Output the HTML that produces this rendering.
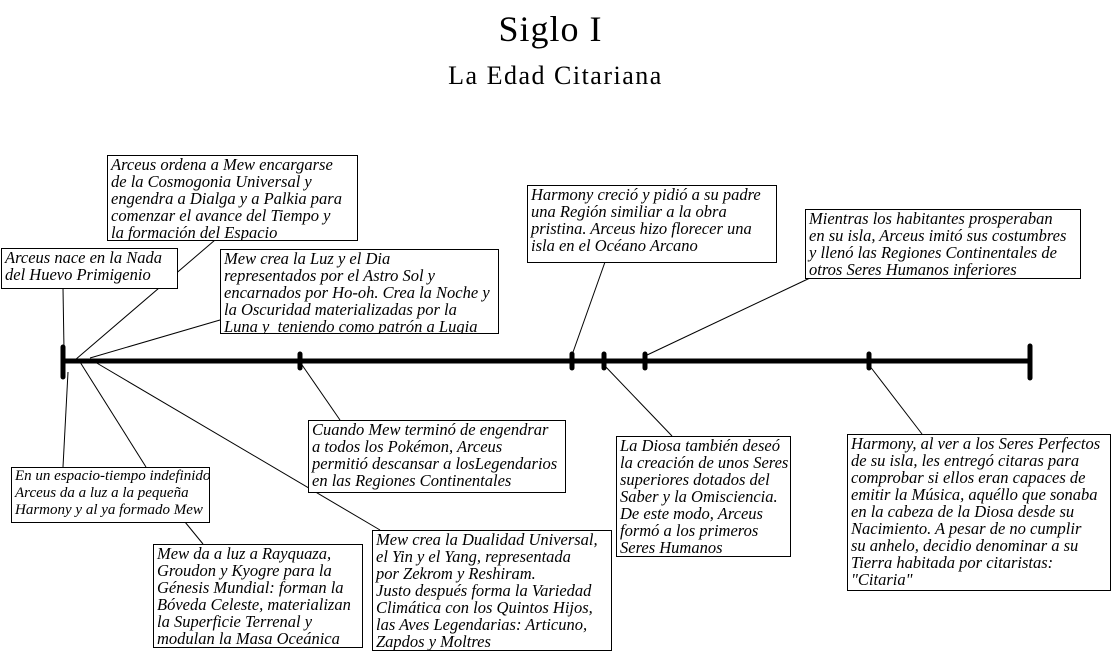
<!DOCTYPE html>
<html><head><meta charset="utf-8"><style>
body{margin:0;width:1111px;height:657px;background:#fff;position:relative;overflow:hidden;font-family:"Liberation Serif",serif;}
.b{position:absolute;border:1px solid #000;background:#fff;font-style:italic;font-size:16.5px;line-height:17px;padding:0 3px;white-space:nowrap;box-sizing:border-box;overflow:hidden;color:#000}
.t{position:absolute;width:100%;text-align:center;left:0}
svg{position:absolute;left:0;top:0}
</style></head><body>
<div class="t" style="top:8px;left:-5px;font-size:36px;letter-spacing:1px;">Siglo I</div>
<div class="t" style="top:61px;left:0px;font-size:26px;letter-spacing:1.5px;">La Edad Citariana</div>
<svg width="1111" height="657">
<g stroke="#000" stroke-width="1" fill="none">
<line x1="63" y1="288" x2="64" y2="350"/>
<line x1="215" y1="240" x2="75" y2="360"/>
<line x1="220" y1="320" x2="90" y2="358"/>
<line x1="68" y1="372" x2="63" y2="467"/>
<line x1="80" y1="362" x2="146" y2="467"/>
<line x1="95" y1="362" x2="380" y2="530"/>
<line x1="300" y1="362" x2="340" y2="420"/>
<line x1="185" y1="522" x2="203" y2="544"/>
<line x1="605" y1="262" x2="572" y2="355"/>
<line x1="810" y1="278" x2="645" y2="356"/>
<line x1="604" y1="365" x2="672" y2="436"/>
<line x1="869" y1="365" x2="922" y2="434"/>
</g>
<g stroke="#000" stroke-linecap="round">
<line x1="63" y1="361" x2="1030" y2="361" stroke-width="5"/>
<line x1="63" y1="347" x2="63" y2="377" stroke-width="5"/>
<line x1="1030" y1="346" x2="1030" y2="378" stroke-width="5"/>
<line x1="300" y1="354" x2="300" y2="368" stroke-width="5"/>
<line x1="572" y1="354" x2="572" y2="368" stroke-width="5"/>
<line x1="604" y1="354" x2="604" y2="368" stroke-width="5"/>
<line x1="645" y1="354" x2="645" y2="368" stroke-width="5"/>
<line x1="869" y1="354" x2="869" y2="368" stroke-width="5"/>
</g>
</svg>
<div class="b" style="left:1px;top:248px;width:177px;height:41px;">Arceus nace en la Nada<br>del Huevo Primigenio</div>
<div class="b" style="left:107px;top:155px;width:251px;height:86px;">Arceus ordena a Mew encargarse<br>de la Cosmogonia Universal y<br>engendra a Dialga y a Palkia para<br>comenzar el avance del Tiempo y<br>la formación del Espacio</div>
<div class="b" style="left:220px;top:249px;width:279px;height:85px;">Mew crea la Luz y el Dia<br>representados por el Astro Sol y<br>encarnados por Ho-oh. Crea la Noche y<br>la Oscuridad materializadas por la<br>Luna y &nbsp;teniendo como patrón a Lugia</div>
<div class="b" style="left:527px;top:185px;width:250px;height:78px;">Harmony creció y pidió a su padre<br>una Región similiar a la obra<br>pristina. Arceus hizo florecer una<br>isla en el Océano Arcano</div>
<div class="b" style="left:805px;top:209px;width:276px;height:70px;">Mientras los habitantes prosperaban<br>en su isla, Arceus imitó sus costumbres<br>y llenó las Regiones Continentales de<br>otros Seres Humanos inferiores</div>
<div class="b" style="left:308px;top:420px;width:258px;height:73px;">Cuando Mew terminó de engendrar<br>a todos los Pokémon, Arceus<br>permitió descansar a losLegendarios<br>en las Regiones Continentales</div>
<div class="b" style="left:11px;top:467px;width:199px;height:56px;font-size:15px;">En un espacio-tiempo indefinido,<br>Arceus da a luz a la pequeña<br>Harmony y al ya formado Mew</div>
<div class="b" style="left:153px;top:544px;width:210px;height:104px;">Mew da a luz a Rayquaza,<br>Groudon y Kyogre para la<br>Génesis Mundial: forman la<br>Bóveda Celeste, materializan<br>la Superficie Terrenal y<br>modulan la Masa Oceánica</div>
<div class="b" style="left:372px;top:530px;width:240px;height:121px;">Mew crea la Dualidad Universal,<br>el Yin y el Yang, representada<br>por Zekrom y Reshiram.<br>Justo después forma la Variedad<br>Climática con los Quintos Hijos,<br>las Aves Legendarias: Articuno,<br>Zapdos y Moltres</div>
<div class="b" style="left:616px;top:436px;width:175px;height:121px;">La Diosa también deseó<br>la creación de unos Seres<br>superiores dotados del<br>Saber y la Omisciencia.<br>De este modo, Arceus<br>formó a los primeros<br>Seres Humanos</div>
<div class="b" style="left:847px;top:434px;width:264px;height:157px;">Harmony, al ver a los Seres Perfectos<br>de su isla, les entregó citaras para<br>comprobar si ellos eran capaces de<br>emitir la Música, aquéllo que sonaba<br>en la cabeza de la Diosa desde su<br>Nacimiento. A pesar de no cumplir<br>su anhelo, decidio denominar a su<br>Tierra habitada por citaristas:<br>"Citaria"</div>
</body></html>
